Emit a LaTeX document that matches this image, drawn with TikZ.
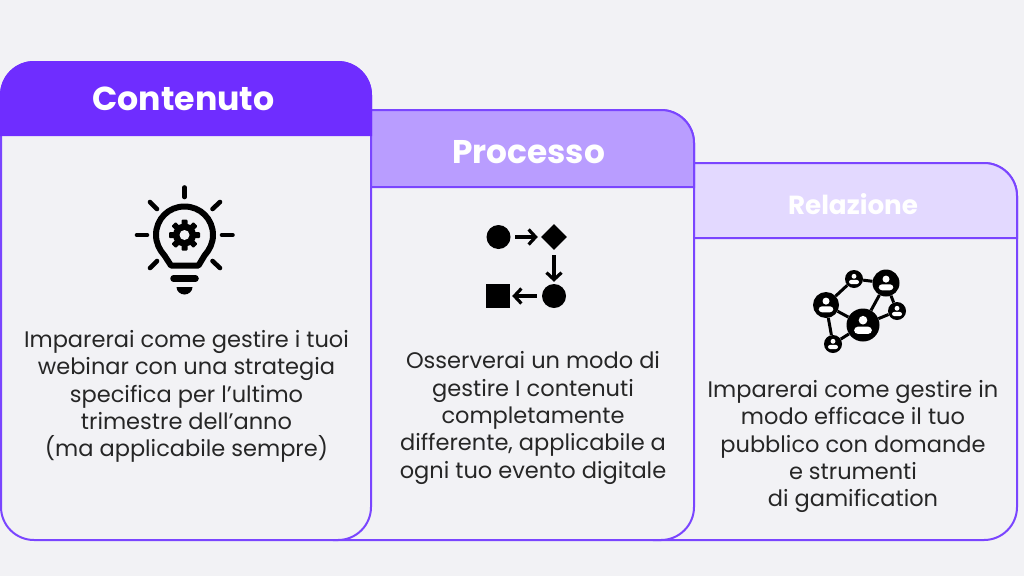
\documentclass[tikz,border=0pt]{standalone}
\usepackage{fontspec}
\usepackage{xcolor}
\setmainfont{Poppins}
\usetikzlibrary{arrows.meta,positioning,shapes.geometric}
\definecolor{paper}{HTML}{F2F2F5}
\definecolor{violetA}{HTML}{6F2DFF}
\definecolor{violetB}{HTML}{B99DFF}
\definecolor{violetC}{HTML}{E3D9FF}
\definecolor{edge}{HTML}{7A45FF}

\begin{document}
\begin{tikzpicture}[x=1pt, y=-1pt, >=Latex]

  % ===== Styles =====
  \tikzset{
    card/.style={draw=edge, line width=2pt, fill=paper, rounded corners=33pt},
    header/.style={draw=edge, line width=2pt},
    title/.style={text=white, inner sep=0pt, font=\bfseries},
    body/.style={text=black!85, align=center, inner sep=0pt, font=\fontsize{22.5}{27.3}\selectfont},
    ray/.style={line width=4.6pt, line cap=round},
    bulb/.style={line width=6pt, line join=round},
    step arrow/.style={-{Straight Barb[length=7pt,width=15pt,line width=3.2pt]}, line width=3.4pt},
    dot/.style={circle, fill=black, inner sep=0pt, minimum size=24pt},
    hub/.style={circle, fill=black, inner sep=0pt, minimum size=#1},
    link/.style={line width=3pt}
  }
  \newcommand{\person}[2]{% white figure inside a network circle
    \fill[white] (#1) ++(0,-0.30*#2) circle (0.27*#2);
    \fill[white, rounded corners=#2*0.25pt] (#1) ++(-0.56*#2,0.56*#2) -- ++(0,-0.46*#2) -- ++(1.12*#2,0) -- ++(0,0.46*#2) -- cycle;
  }

  % ===== Page =====
  \fill[paper] (0,0) rectangle (1024,576);

  % ===== Cards, back to front =====
  \draw[card] (620,163) rectangle (1017,540);
  \draw[header, fill=violetC] (620,238) [rounded corners=33pt] -- (620,163) -- (1017,163) [sharp corners] -- (1017,238) -- cycle;

  \draw[card] (300,110) rectangle (694,540);
  \draw[header, fill=violetB] (300,187) [rounded corners=33pt] -- (300,110) -- (694,110) [sharp corners] -- (694,187) -- cycle;

  \draw[card] (1,62) rectangle (371,540);
  \draw[header, draw=violetA, fill=violetA] (1,135) [rounded corners=33pt] -- (1,62) -- (371,62) [sharp corners] -- (371,135) -- cycle;

  % Headings
  \node[title, font=\bfseries\fontsize{33.2}{38}\selectfont] (Contenuto) at (183.5,99) {Contenuto};
  \node[title, font=\bfseries\fontsize{32.8}{38}\selectfont] (Processo) at (528.5,152) {Processo};
  \node[title, font=\bfseries\fontsize{26.2}{30}\selectfont] (Relazione) at (853,204.5) {Relazione};

  % ===== Texts =====
  \node[body] (TextA) at (186.5,396.5) {Imparerai come gestire i tuoi\\webinar con una strategia\\specifica per l’ultimo\\trimestre dell’anno\\(ma applicabile sempre)};
  \node[body] (TextB) at (533,418) {Osserverai un modo di\\gestire I contenuti\\completamente\\differente, applicabile a\\ogni tuo evento digitale};
  \node[body] (TextC) at (853,446.5) {Imparerai come gestire in\\modo efficace il tuo\\pubblico con domande\\e strumenti\\di gamification};

  % ===== Lightbulb =====
  \draw[ray] (184.5,187.5) -- (184.5,197);
  \draw[ray] (137,235) -- (147,235);
  \draw[ray] (222,235) -- (232.5,235);
  \draw[ray] (150,202) -- (157,209);
  \draw[ray] (220,202) -- (212.5,209);
  \draw[ray] (150,268) -- (157,261);
  \draw[ray] (220,268) -- (212.5,261);
  \draw[bulb] (171,265.5) -- (198.5,265.5) -- (204.5,255.5)
    .. controls (209.5,250) and (213,243) .. (213,235)
    .. controls (213,219) and (200.5,206.5) .. (184.5,206.5)
    .. controls (168.5,206.5) and (156,219) .. (156,235)
    .. controls (156,243) and (159.5,250) .. (164.5,255.5) -- cycle;
  \draw[line width=6.5pt, line cap=round] (173.5,278.5) -- (195.5,278.5);
  \fill (176.5,287) -- (192.5,287) .. controls (192.5,291.5) and (188.5,294.5) .. (184.5,294.5)
    .. controls (180.5,294.5) and (176.5,291.5) .. (176.5,287) -- cycle;
  \foreach \a in {0,45,...,315} {
    \fill[rotate around={\a:(184.5,235)}, rounded corners=1pt] (181.5,219.5) rectangle (187.5,228);
  }
  \fill (184.5,235) circle (11.5);
  \fill[paper] (184.5,235) circle (5);

  % ===== Process icon =====
  \node[dot] (StepA) at (498.5,237) {};
  \node[diamond, fill=black, inner sep=0pt, minimum size=26pt] (StepB) at (554,237) {};
  \node[dot] (StepC) at (554,296) {};
  \node[fill=black, inner sep=0pt, minimum size=24pt] (StepD) at (498,296) {};
  \draw[step arrow] ([xshift=4.5pt]StepA.east) -- ([xshift=-3pt]StepB.west);
  \draw[step arrow] ([yshift=-5pt]StepB.south) -- ([yshift=2pt]StepC.north);
  \draw[step arrow] ([xshift=-5pt]StepC.west) -- ([xshift=2pt]StepD.east);

  % ===== Network icon =====
  \node[hub=26pt] (NetA) at (826,305) {};
  \node[hub=27pt] (NetB) at (886,283) {};
  \node[hub=33pt] (NetC) at (863,325) {};
  \node[hub=18pt] (NetD) at (854,279) {};
  \node[hub=18pt] (NetE) at (897,311) {};
  \node[hub=18pt] (NetF) at (833,344) {};
  \draw[link] (NetA) -- (NetD);
  \draw[link] (NetD) -- (NetB);
  \draw[link] (NetB) -- (NetC);
  \draw[link] (NetB) -- (NetE);
  \draw[link] (NetE) -- (NetC);
  \draw[link] (NetA) -- (NetC);
  \draw[link] (NetA) -- (NetF);
  \draw[link] (NetF) -- (NetC);
  \person{NetA}{13}
  \person{NetB}{13}
  \person{NetC}{16}
  \person{NetD}{9}
  \person{NetE}{9}
  \person{NetF}{9}

\end{tikzpicture}
\end{document}
